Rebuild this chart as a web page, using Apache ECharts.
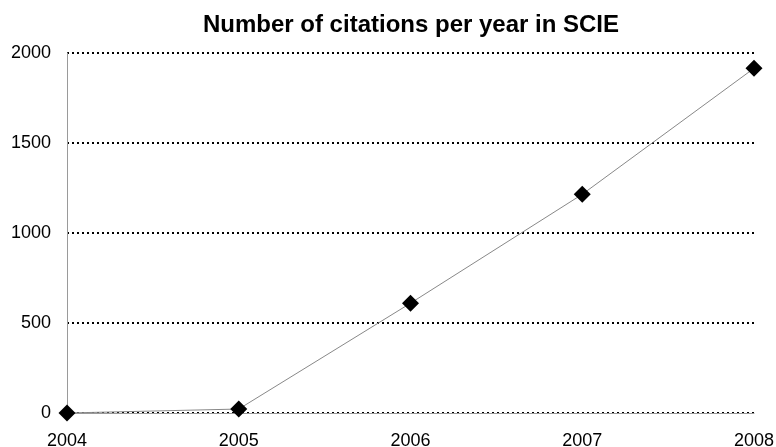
<!DOCTYPE html>
<html>
<head>
<meta charset="utf-8">
<script src="https://cdn.jsdelivr.net/npm/echarts@6/dist/echarts.min.js"></script>
<style>
  html, body { margin: 0; padding: 0; background: #fff; }
  #chart { width: 776px; height: 447px; }
</style>
</head>
<body>
<div id="chart"></div>
<script>
// Yearly citation counts
const years = ['2004', '2005', '2006', '2007', '2008'];
const citations = [0, 22, 610, 1215, 1915];
const yTicks = { min: 0, max: 2000, interval: 500 };

const chart = echarts.init(document.getElementById('chart'), null, { renderer: 'canvas' });
chart.setOption({
  animation: false,
  backgroundColor: '#ffffff',
  title: {
    text: 'Number of citations per year in SCIE',
    left: 406,
    top: 8,
    textAlign: 'center',
    textStyle: {
      fontFamily: 'Liberation Sans, Arial, sans-serif',
      fontWeight: 'bold',
      fontSize: 24,
      color: '#000'
    }
  },
  grid: { left: 67, right: 22, top: 53, bottom: 34, containLabel: false, outerBoundsMode: 'none' },
  xAxis: {
    type: 'category',
    data: years,
    boundaryGap: false,
    axisLine: { lineStyle: { color: '#9a9a9a', width: 1 } },
    axisTick: { show: false },
    axisLabel: {
      margin: 19,
      fontFamily: 'Liberation Sans, Arial, sans-serif',
      fontSize: 18,
      color: '#000'
    },
    splitLine: { show: false }
  },
  yAxis: {
    type: 'value',
    min: yTicks.min,
    max: yTicks.max,
    interval: yTicks.interval,
    axisLine: { show: true, lineStyle: { color: '#9a9a9a', width: 1 } },
    axisTick: { show: false },
    axisLabel: {
      margin: 16,
      fontFamily: 'Liberation Sans, Arial, sans-serif',
      fontSize: 18,
      color: '#000',
      formatter: v => String(v)
    },
    splitLine: {
      show: true,
      lineStyle: { color: '#000', width: 2, type: [2, 3] }
    }
  },
  series: [{
    type: 'line',
    data: citations,
    symbol: 'diamond',
    symbolSize: 17,
    lineStyle: { color: '#888', width: 1 },
    itemStyle: { color: '#000' },
    z: 5
  }]
});
</script>
</body>
</html>
